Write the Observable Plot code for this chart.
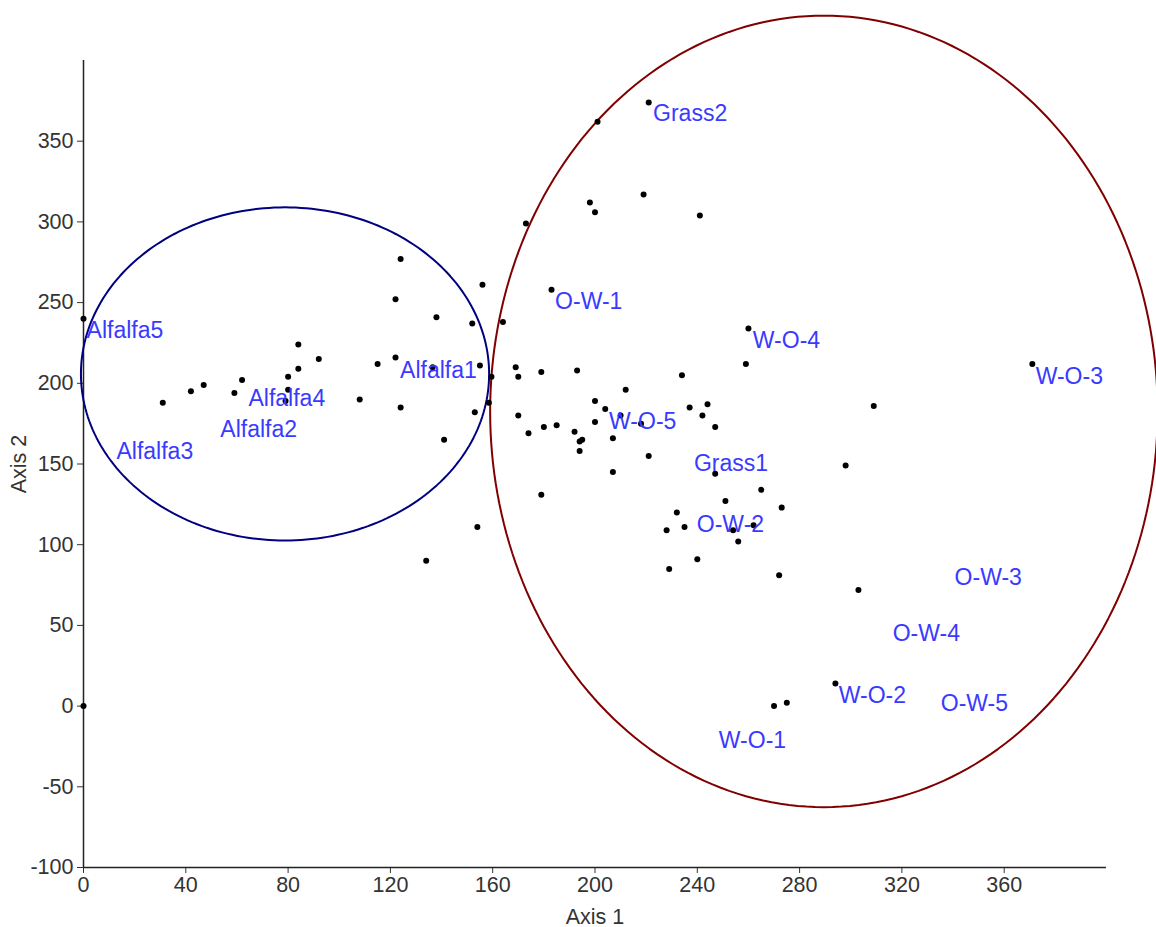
<!DOCTYPE html>
<html>
<head>
<meta charset="utf-8">
<script src="https://cdn.jsdelivr.net/npm/d3@7"></script>
<script src="https://cdn.jsdelivr.net/npm/@observablehq/plot@0.6"></script>
<style>
  html, body { margin: 0; padding: 0; background: #ffffff; }
  #chart { width: 1156px; height: 927px; }
</style>
</head>
<body>
<div id="chart"></div>
<script>
// ---- data ----
const pointX = [0, 0, 31, 42, 47, 59, 62, 80, 80, 79, 84, 84, 92, 108, 115, 122, 122, 124, 124, 134,
  136.5, 138, 141, 152, 153, 154, 155, 156, 158.5, 159.5,
  164, 169, 170, 170, 173, 174, 179, 179, 180, 183, 185, 192, 193, 194, 195, 194, 198, 200, 200, 200,
  201, 204, 207, 207, 210, 212, 218, 219, 221, 221, 228, 229, 232, 234, 235, 237, 240, 241, 242, 244,
  247, 247, 251, 254, 256, 259, 260, 262, 265, 270, 272, 273, 275, 294, 298, 303, 309, 371];
const pointY = [240, 0, 188, 195, 199, 194, 202, 204, 196, 189, 224, 209, 215, 190, 212, 216, 252, 277, 185, 90,
  210, 241, 165, 237, 182, 111, 211, 261, 188, 204,
  238, 210, 204, 180, 299, 169, 207, 131, 173, 258, 174, 170, 208, 164, 165, 158, 312, 306, 189, 176,
  362, 184, 166, 145, 180, 196, 175, 317, 374, 155, 109, 85, 120, 205, 111, 185, 91, 304, 180, 187,
  173, 144, 127, 109, 102, 212, 234, 112, 134, 0, 81, 123, 2, 14, 149, 72, 186, 212];

const labelNames = ["Alfalfa5", "Alfalfa1", "Alfalfa4", "Alfalfa2", "Alfalfa3", "Grass2", "O-W-1", "W-O-4",
  "W-O-3", "W-O-5", "Grass1", "O-W-2", "O-W-3", "O-W-4", "W-O-2", "O-W-5", "W-O-1"];
const labelX = [1.2, 123.8, 64.5, 53.5, 12.9, 222.7, 184.4, 261.7, 372.3, 205.5, 238.7, 239.8, 340.6, 316.4, 295.3, 335.2, 248.4];
const labelY = [232.7, 207.9, 190.5, 171.3, 157.7, 367, 250.6, 226.5, 204.2, 176.3, 150.3, 112.5, 79.6, 44.9, 6.5, 1.5, -21.4];

const xTicks = [0, 40, 80, 120, 160, 200, 240, 280, 320, 360];
const yTicks = [-100, -50, 0, 50, 100, 150, 200, 250, 300, 350];

// group ellipses (centre and radii in data units)
const ellipseName = ["alfalfa", "other"];
const ellipseCX = [78.8, 289.5];
const ellipseCY = [205.8, 182.6];
const ellipseRX = [79.8, 130.5];
const ellipseRY = [103.2, 245.2];

// ---- build tables ----
const points = pointX.map((x, i) => ({x, y: pointY[i]}));
const labels = labelNames.map((name, i) => ({name, x: labelX[i], y: labelY[i]}));
function outline(k) {
  const pts = [];
  const n = 240;
  for (let j = 0; j < n; j++) {
    const a = (2 * Math.PI * j) / n;
    pts.push({g: ellipseName[k], x: ellipseCX[k] + ellipseRX[k] * Math.cos(a), y: ellipseCY[k] + ellipseRY[k] * Math.sin(a)});
  }
  return pts;
}
const fmt = d => String(d); // plain hyphen minus as in the reference

const chart = Plot.plot({
  width: 1156,
  height: 927,
  marginLeft: 83,
  marginRight: 50,
  marginTop: 60,
  marginBottom: 60,
  style: {fontFamily: "'Liberation Sans', Arial, sans-serif", fontSize: "21.5px", color: "#333", background: "#fff", overflow: "visible"},
  x: {domain: [0, 400], ticks: xTicks, tickFormat: fmt, tickSize: 6, tickPadding: 3, label: "Axis 1", labelAnchor: "center", labelArrow: false, labelOffset: 56},
  y: {domain: [-100, 400], ticks: yTicks, tickFormat: fmt, tickSize: 6, tickPadding: 4, label: "Axis 2", labelAnchor: "center", labelArrow: false, labelOffset: 73},
  marks: [
    Plot.ruleX([0], {stroke: "#222", strokeWidth: 1.5}),
    Plot.ruleY([-100], {stroke: "#222", strokeWidth: 1.5}),
    Plot.line(outline(0), {x: "x", y: "y", curve: "linear-closed", stroke: "#000080", strokeWidth: 2}),
    Plot.line(outline(1), {x: "x", y: "y", curve: "linear-closed", stroke: "#800000", strokeWidth: 2}),
    Plot.dot(points, {x: "x", y: "y", r: 3, fill: "#000", stroke: "none"}),
    Plot.text(labels, {x: "x", y: "y", text: "name", textAnchor: "start", fill: "#3a3aff", fontSize: 23})
  ]
});
document.getElementById("chart").appendChild(chart);
</script>
</body>
</html>
